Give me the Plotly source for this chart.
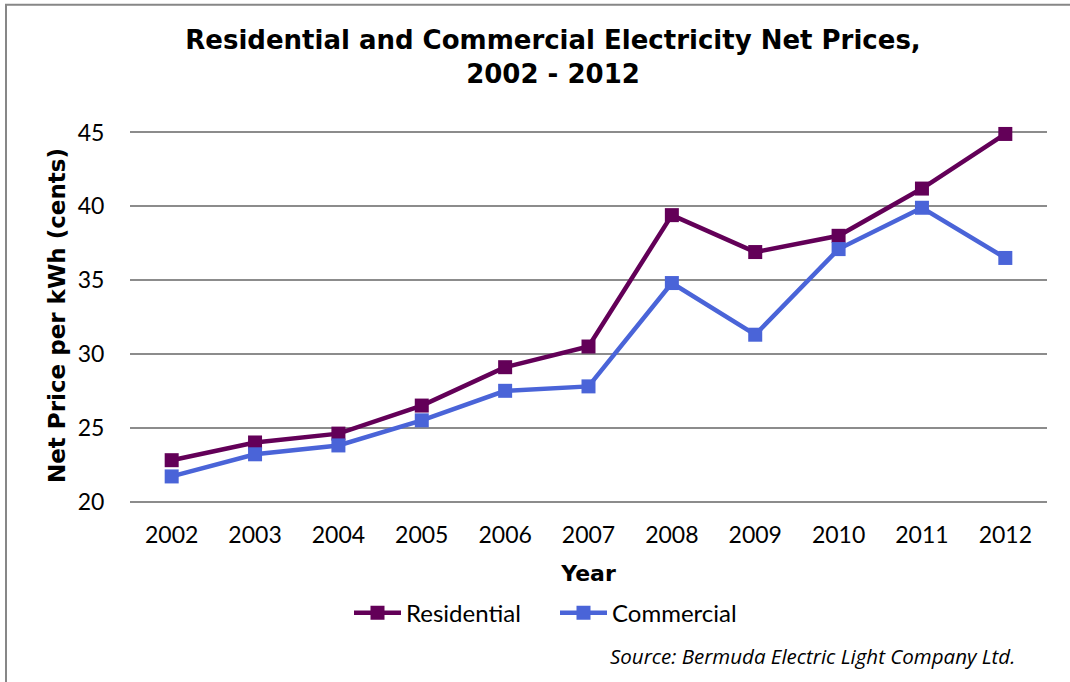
import plotly.graph_objects as go

years = ["2002", "2003", "2004", "2005", "2006", "2007", "2008", "2009", "2010", "2011", "2012"]
residential = [22.8, 24.0, 24.6, 26.5, 29.1, 30.5, 39.4, 36.9, 38.0, 41.2, 44.9]
commercial = [21.7, 23.2, 23.8, 25.5, 27.5, 27.8, 34.8, 31.3, 37.1, 39.9, 36.5]
y_ticks = [20, 25, 30, 35, 40, 45]

W, H = 1070, 682
ppu = 370 / 25.0
pad = 0.1
L, R = 130, 23
T = 132 - pad * ppu
B = 180 - pad * ppu
pw, ph = W - L - R, H - T - B

def px(x):
    return (x - L) / pw

def py(y):
    return (H - B - y) / ph

fig = go.Figure()
fig.add_trace(go.Scatter(
    x=years, y=residential, name="Residential", mode="lines+markers",
    line=dict(color="#630058", width=4.5),
    marker=dict(symbol="square", size=14, color="#630058"),
    cliponaxis=False,
))
fig.add_trace(go.Scatter(
    x=years, y=commercial, name="Commercial", mode="lines+markers",
    line=dict(color="#4A64D8", width=4.5),
    marker=dict(symbol="square", size=14, color="#4A64D8"),
    cliponaxis=False,
))

tick_font = dict(family="Lato", size=23, color="#000000")

fig.update_layout(
    width=W, height=H,
    margin=dict(l=L, r=R, t=T, b=B, autoexpand=False),
    paper_bgcolor="white", plot_bgcolor="white",
    title=dict(
        text="Residential and Commercial Electricity Net Prices,<br>2002 - 2012",
        font=dict(family="DejaVu Sans", size=26, color="#000000", weight="bold"),
        x=553 / W, xanchor="center", xref="container",
        y=1 - 49 / H, yanchor="middle", yref="container",
    ),
    xaxis=dict(
        type="category", tickfont=tick_font, range=[-0.5, 10.5],
        showgrid=False, showline=False, zeroline=False,
        ticks="outside", ticklen=0, ticklabelstandoff=11,
        title=dict(text="Year", font=dict(family="DejaVu Sans", size=22, color="#000000", weight="bold"), standoff=19),
        automargin=False,
    ),
    yaxis=dict(
        range=[20 - pad, 45 + pad], tickvals=y_ticks, tickfont=tick_font,
        showgrid=True, gridcolor="#8c8c8c", gridwidth=2,
        zeroline=False, showline=False,
        ticks="outside", ticklen=0, ticklabelstandoff=20,
        automargin=False,
    ),
    legend=dict(
        orientation="h", x=px(349), xanchor="left", y=py(614), yanchor="middle",
        font=dict(family="Lato", size=24, color="#000000"),
        bgcolor="rgba(0,0,0,0)", itemwidth=47, entrywidth=144, tracegroupgap=0,
    ),
    showlegend=True,
)

fig.add_annotation(
    text="Net Price per kWh (cents)", textangle=-90,
    xref="paper", yref="paper", x=px(57), y=py(316),
    xanchor="center", yanchor="middle", showarrow=False,
    font=dict(family="DejaVu Sans", size=23, color="#000000", weight="bold"),
)

fig.add_annotation(
    text="Source: Bermuda Electric Light Company Ltd.",
    xref="paper", yref="paper", x=px(1017), y=py(657),
    xanchor="right", yanchor="middle", showarrow=False,
    font=dict(family="Open Sans", size=20.5, color="#000000", style="italic"),
)

fig.add_shape(
    type="rect", xref="paper", yref="paper",
    x0=px(6), x1=px(1090), y0=py(700), y1=py(4),
    line=dict(color="#878787", width=2), fillcolor="rgba(0,0,0,0)", layer="below",
)

fig.write_html("out.html", config={"displayModeBar": False},
               post_script="document.body.style.margin='0';")
